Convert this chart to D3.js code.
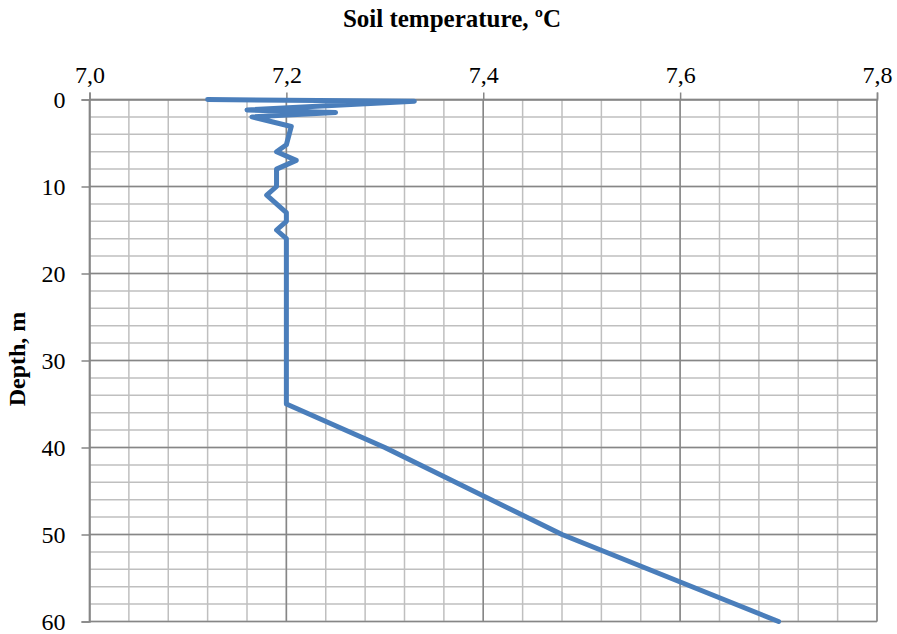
<!DOCTYPE html>
<html>
<head>
<meta charset="utf-8">
<script src="https://cdn.jsdelivr.net/npm/d3@7"></script>
<style>
  body { margin: 0; background: #fff; }
  svg text { font-family: "Liberation Serif", "Times New Roman", serif; fill: #000; }
</style>
</head>
<body>
<div id="chart"></div>
<script>
// Depth profile
const depths = [0, 0.2, 1.2, 1.5, 2, 3.1, 5.2, 6, 7, 8, 10, 11, 13, 14, 15, 16, 35, 40, 50, 60];
const temps = [7.12, 7.33, 7.16, 7.25, 7.165, 7.205, 7.2, 7.19, 7.21, 7.19, 7.19, 7.18, 7.2, 7.2, 7.19, 7.2, 7.2, 7.3, 7.48, 7.7];
const tempTicks = [7.0, 7.2, 7.4, 7.6, 7.8];
const depthTicks = [0, 10, 20, 30, 40, 50, 60];

const width = 897, height = 634;
const margin = { top: 99.5, right: 20, bottom: 12.5, left: 89.5 };
const w = 877 - margin.left;
const h = 621.5 - margin.top;

const svg = d3.select("#chart").append("svg")
    .attr("width", width)
    .attr("height", height);

const g = svg.append("g")
    .attr("transform", `translate(${margin.left},${margin.top})`);

const x = d3.scaleLinear().domain([7.0, 7.8]).range([0, w]);
const y = d3.scaleLinear().domain([0, 60]).range([0, h]);

// minor grid
const minorX = d3.range(7.0, 7.8001, 0.04);
const minorY = d3.range(0, 60.001, 2);
g.append("g").selectAll("line").data(minorX).enter().append("line")
    .attr("x1", d => x(d)).attr("x2", d => x(d))
    .attr("y1", 0).attr("y2", h)
    .attr("stroke", "#bfbfbf").attr("stroke-width", 1.5);
g.append("g").selectAll("line").data(minorY).enter().append("line")
    .attr("x1", 0).attr("x2", w)
    .attr("y1", d => y(d)).attr("y2", d => y(d))
    .attr("stroke", "#bfbfbf").attr("stroke-width", 1.5);

// major grid
g.append("g").selectAll("line").data(tempTicks).enter().append("line")
    .attr("x1", d => x(d)).attr("x2", d => x(d))
    .attr("y1", 0).attr("y2", h)
    .attr("stroke", "#868686").attr("stroke-width", 1.5);
g.append("g").selectAll("line").data(depthTicks).enter().append("line")
    .attr("x1", 0).attr("x2", w)
    .attr("y1", d => y(d)).attr("y2", d => y(d))
    .attr("stroke", "#868686").attr("stroke-width", 1.5);

// axes
const xAxis = g.append("g")
    .call(d3.axisTop(x).tickValues(tempTicks).tickSize(7).tickPadding(10)
        .tickFormat(d => d3.format(".1f")(d).replace(".", ",")));
const yAxis = g.append("g")
    .call(d3.axisLeft(y).tickValues(depthTicks).tickSize(8).tickPadding(16));
[xAxis, yAxis].forEach(a => {
    a.attr("font-size", null).attr("font-family", null);
    a.select(".domain").attr("stroke", "#868686").attr("stroke-width", 1.5);
    a.selectAll(".tick line").attr("stroke", "#868686").attr("stroke-width", 1.5);
    a.selectAll(".tick text").style("font-size", "24px").attr("fill", "#000");
});
yAxis.selectAll(".tick text").attr("dy", "0.33em");

// profile line
const line = d3.line()
    .x((d, i) => x(temps[i]))
    .y(d => y(d));
g.append("path")
    .datum(depths)
    .attr("d", line)
    .attr("fill", "none")
    .attr("stroke", "#4a7ebb")
    .attr("stroke-width", 5)
    .attr("stroke-linejoin", "round")
    .attr("stroke-linecap", "round");

// titles
svg.append("text")
    .attr("x", 452).attr("y", 27)
    .attr("text-anchor", "middle")
    .style("font-size", "25px").style("font-weight", "bold")
    .text("Soil temperature, ºC");
svg.append("text")
    .attr("transform", "translate(25,359) rotate(-90)")
    .attr("text-anchor", "middle")
    .style("font-size", "24px").style("font-weight", "bold")
    .text("Depth, m");
</script>
</body>
</html>
